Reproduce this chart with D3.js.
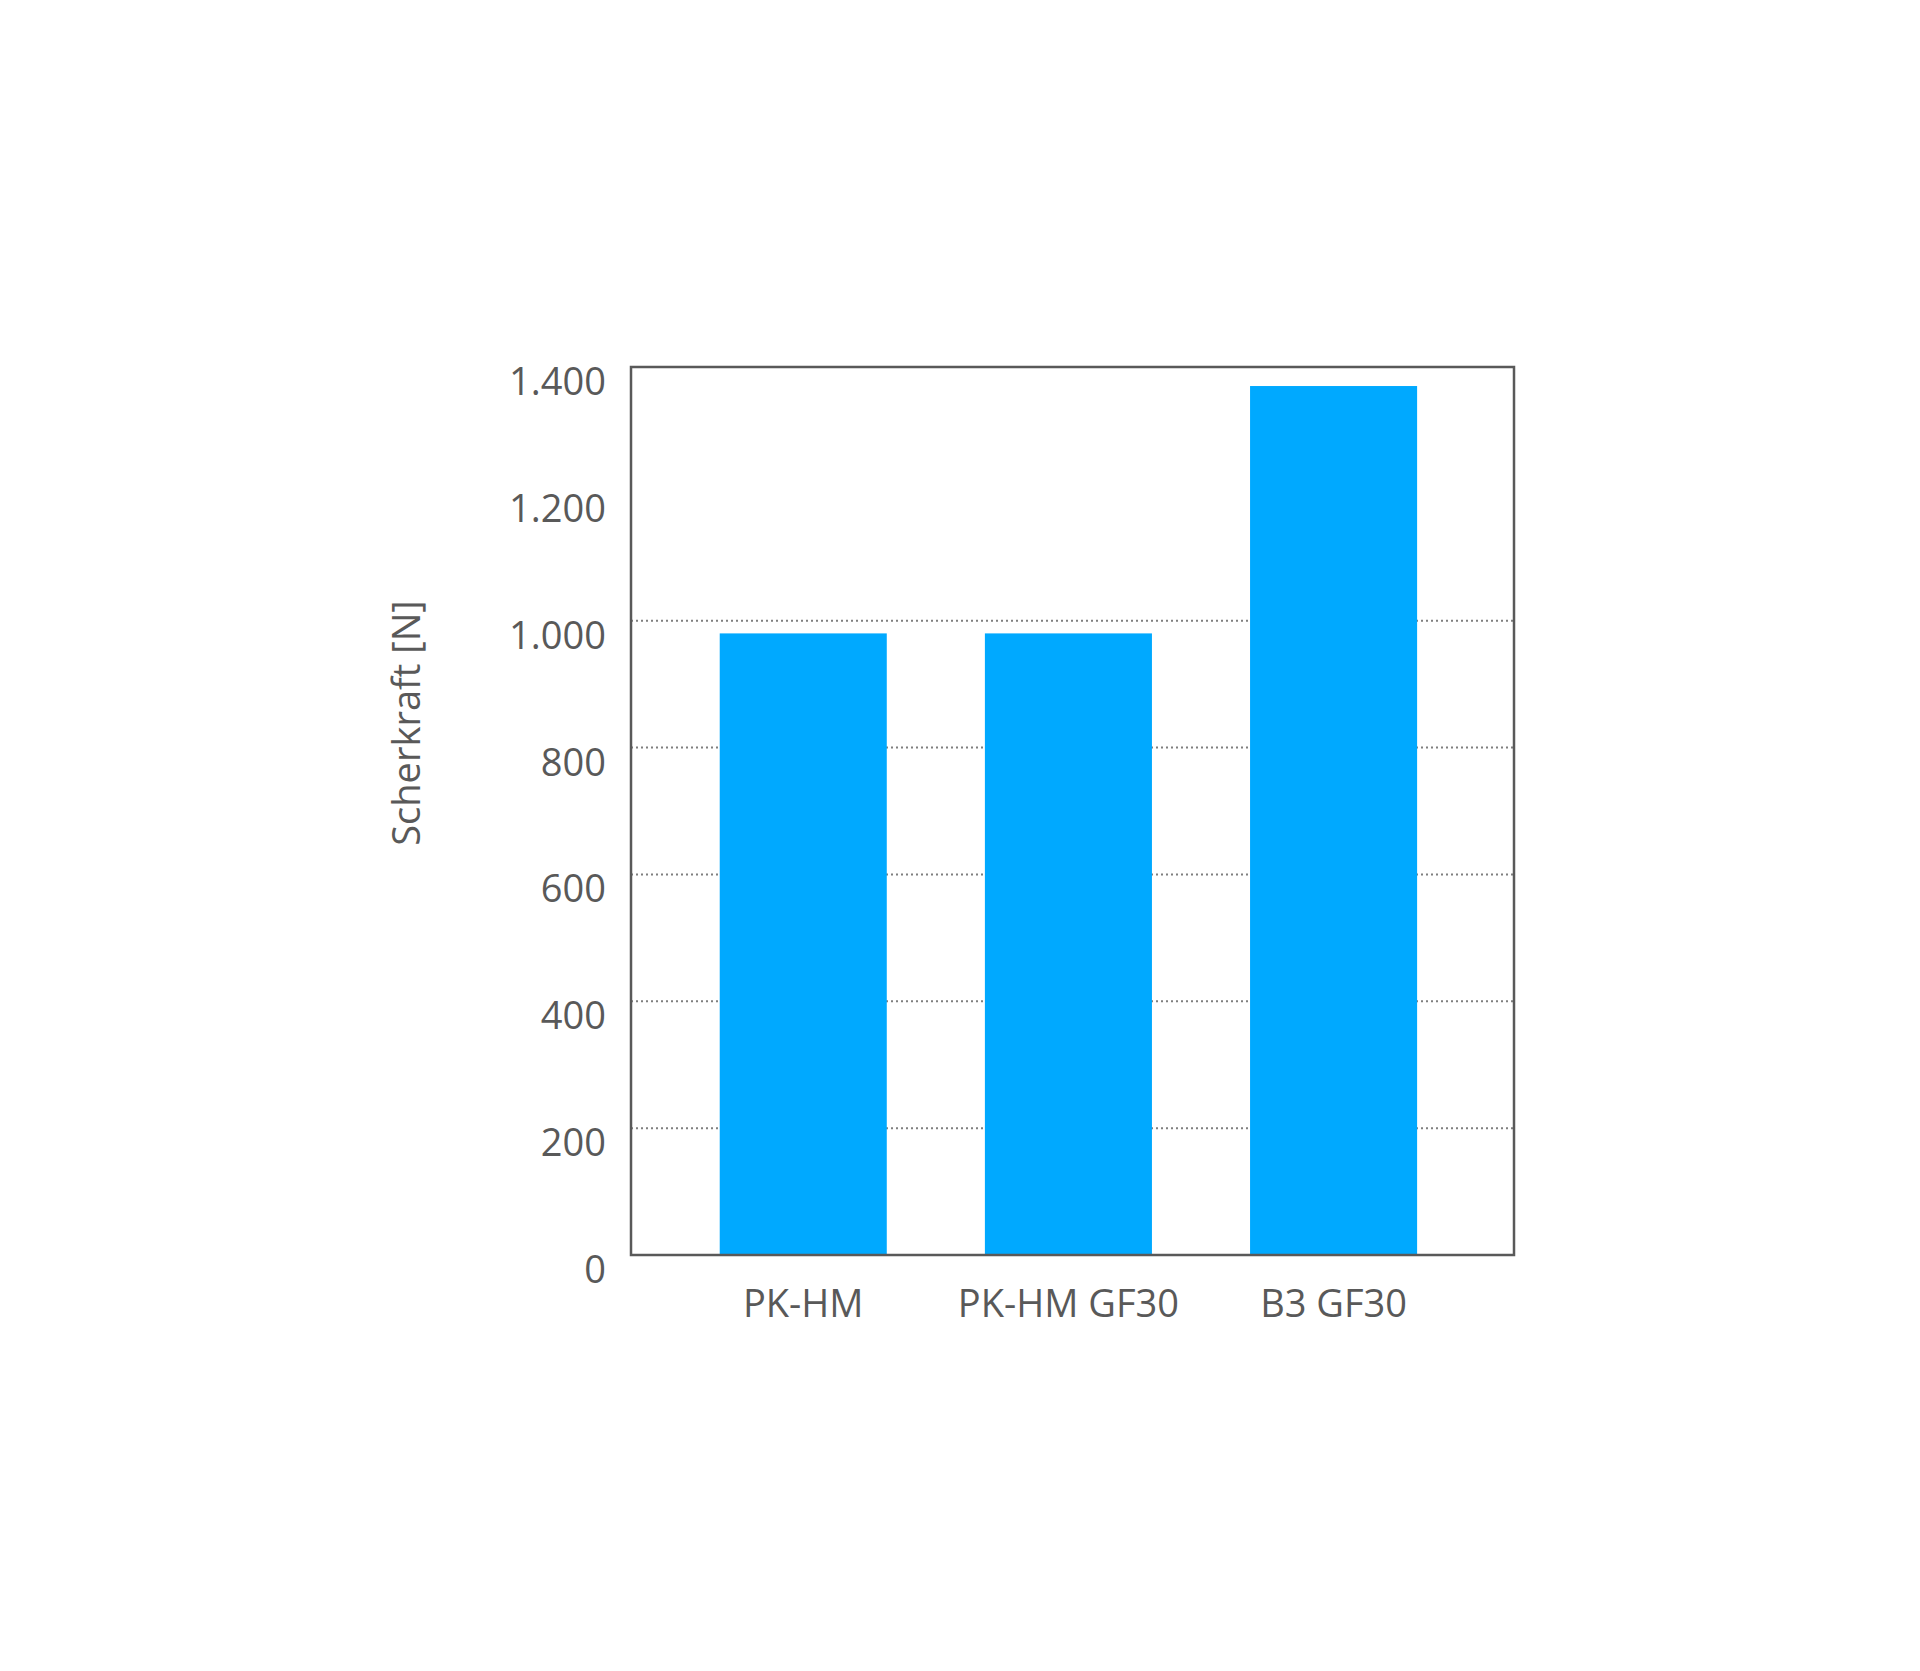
<!DOCTYPE html>
<html>
<head>
<meta charset="utf-8">
<script src="https://cdn.jsdelivr.net/npm/d3@7"></script>
<style>
  body { margin: 0; background: #fff; }
  text { font-family: "Open Sans", "Noto Sans", sans-serif; fill: #595959; }
</style>
</head>
<body>
<div id="chart"></div>
<script>
// Data
const categories = ["PK-HM", "PK-HM GF30", "B3 GF30"];
const values = [980, 980, 1370];
const yTicks = [0, 200, 400, 600, 800, 1000, 1200, 1400];
const gridValues = [200, 400, 600, 800, 1000];
const yTitle = "Scherkraft [N]";

const W = 1920, H = 1671;
// plot frame in page pixels
const frame = {left: 631, right: 1514, top: 367, bottom: 1255};

const svg = d3.select("#chart")
    .append("svg")
    .attr("width", W)
    .attr("height", H);

svg.append("rect")
    .attr("width", W)
    .attr("height", H)
    .attr("fill", "#fff");

const x = d3.scaleBand()
    .domain(categories)
    .range([frame.left, frame.right])
    .paddingInner(0.37)
    .paddingOuter(0.35)
    .align(0.478);

const y = d3.scaleLinear()
    .domain([0, 1400])
    .range([frame.bottom, frame.top]);

// dotted grid lines
svg.selectAll(".grid")
    .data(gridValues)
    .enter().append("line")
    .attr("class", "grid")
    .attr("x1", frame.left)
    .attr("x2", frame.right)
    .attr("y1", d => y(d))
    .attr("y2", d => y(d))
    .attr("stroke", "#7f7f7f")
    .attr("stroke-width", 2)
    .attr("stroke-dasharray", "2,3");

// bars
svg.selectAll(".bar")
    .data(values)
    .enter().append("rect")
    .attr("class", "bar")
    .attr("x", (d, i) => x(categories[i]))
    .attr("y", d => y(d))
    .attr("width", x.bandwidth())
    .attr("height", d => y(0) - y(d))
    .attr("fill", "#00a9ff");

// frame
svg.append("rect")
    .attr("x", frame.left)
    .attr("y", frame.top)
    .attr("width", frame.right - frame.left)
    .attr("height", frame.bottom - frame.top)
    .attr("fill", "none")
    .attr("stroke", "#595959")
    .attr("stroke-width", 2.5);

// y tick labels, sitting just below their value like the original
const fmt = v => d3.format(",")(v).replace(/,/g, ".");
svg.selectAll(".ytick")
    .data(yTicks)
    .enter().append("text")
    .attr("class", "ytick")
    .attr("x", 606)
    .attr("y", d => y(d) + 28)
    .attr("text-anchor", "end")
    .style("font-size", "38px")
    .text(fmt);

// x category labels
svg.selectAll(".xlabel")
    .data(categories)
    .enter().append("text")
    .attr("class", "xlabel")
    .attr("x", d => x(d) + x.bandwidth() / 2)
    .attr("y", 1317)
    .attr("text-anchor", "middle")
    .style("font-size", "38px")
    .text(d => d);

// y axis title
svg.append("text")
    .attr("transform", "translate(420,723) rotate(-90)")
    .attr("text-anchor", "middle")
    .style("font-size", "38px")
    .text(yTitle);
</script>
</body>
</html>
